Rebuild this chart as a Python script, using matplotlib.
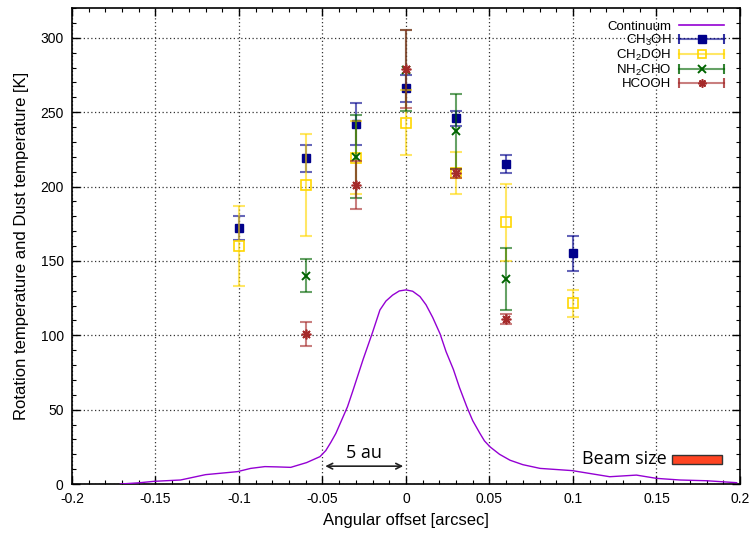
import matplotlib
matplotlib.use('Agg')
import matplotlib.pyplot as plt
from matplotlib.lines import Line2D
from matplotlib.legend_handler import HandlerBase
from matplotlib.patches import Rectangle
from matplotlib.ticker import MultipleLocator, FuncFormatter

plt.rcParams['font.family'] = ['Liberation Sans', 'DejaVu Sans']
plt.rcParams['mathtext.fontset'] = 'custom'
plt.rcParams['mathtext.rm'] = 'Liberation Sans'
plt.rcParams['axes.unicode_minus'] = False

# continuum profile
cont_x = [-0.171, -0.16, -0.151, -0.135, -0.12, -0.101, -0.093, -0.0845, -0.077, -0.069,
          -0.0595, -0.0515, -0.048, -0.045, -0.042, -0.0385, -0.035, -0.032, -0.0256,
          -0.02, -0.0156, -0.012, -0.008, -0.004, 0.0,
          0.004, 0.0084, 0.012, 0.016, 0.0204, 0.024, 0.0284, 0.032, 0.0364, 0.040,
          0.0443, 0.047, 0.0503, 0.056, 0.0623, 0.07, 0.0803, 0.0996,
          0.116, 0.122, 0.138, 0.150, 0.164, 0.180, 0.198]
cont_y = [0.0, 0.8, 1.8, 2.7, 6.3, 8.3, 10.5, 11.7, 11.5, 11.2,
          14.4, 18.4, 22.5, 28.0, 34.0, 43.0, 52.0, 62.0, 84.0,
          102.0, 117.0, 123.0, 127.0, 129.8, 130.5,
          129.6, 126.0, 120.5, 112.0, 101.0, 89.0, 77.0, 65.0, 52.0, 42.5,
          34.0, 29.0, 25.0, 20.0, 16.0, 13.0, 10.5, 9.0,
          6.0, 4.9, 6.0, 3.8, 2.7, 2.2, 0.9]

# rotation temperatures
ch3oh_x = [-0.1, -0.06, -0.03, 0.0, 0.03, 0.06, 0.1]
ch3oh_t = [172, 219, 242, 266, 246, 215, 155]
ch3oh_e = [8, 9, 14, 9, 5, 6, 12]

ch2doh_x = [-0.1, -0.06, -0.03, 0.0, 0.03, 0.06, 0.1]
ch2doh_t = [160, 201, 219.5, 243, 209, 176, 121.5]
ch2doh_e = [27, 34, 24.5, 22, 14, 26, 9]

nh2cho_x = [-0.06, -0.03, 0.0, 0.03, 0.06]
nh2cho_t = [140, 220, 278, 237, 138]
nh2cho_e = [11, 28, 27, 25, 21]

hcooh_x = [-0.06, -0.03, 0.0, 0.06, 0.03]
hcooh_t = [101, 201, 279, 111, 209]
hcooh_e = [8, 16, 26, 3.5, 3]

c_cont = '#9400d3'
c_ch3oh = '#00008b'
c_ch2doh = '#ffd700'
c_nh2cho = '#006400'
c_hcooh = '#a52a2a'


class HandlerHBar(HandlerBase):
    def __init__(self, color, marker, ms, mfc, mew):
        super().__init__()
        self.color = color
        self.marker = marker
        self.ms = ms
        self.mfc = mfc
        self.mew = mew

    def create_artists(self, legend, orig_handle, xdescent, ydescent, width, height, fontsize, trans):
        y = height / 2 - ydescent
        x0, x1 = -xdescent, width - xdescent
        bar = Line2D([x0, x1], [y, y], color=self.color, lw=1.5, alpha=0.6, transform=trans)
        caps = Line2D([x0, x1], [y, y], ls='none', marker='|', ms=7, mew=1.5,
                      color=self.color, alpha=0.8, transform=trans)
        mk = Line2D([(x0 + x1) / 2], [y], ls='none', marker=self.marker, ms=self.ms,
                    mfc=self.mfc, mec=self.color, mew=self.mew, transform=trans)
        return [bar, caps, mk]


fig = plt.figure(figsize=(7.56, 5.35), dpi=100)
ax = fig.add_axes([0.0952, 0.0953, 0.8836, 0.8897])

ax.plot(cont_x, cont_y, color=c_cont, lw=1.0, zorder=3)

series = [
    (ch3oh_x, ch3oh_t, ch3oh_e, c_ch3oh, 's', 6, c_ch3oh, 1.0),
    (ch2doh_x, ch2doh_t, ch2doh_e, c_ch2doh, 's', 7, 'none', 1.2),
    (nh2cho_x, nh2cho_t, nh2cho_e, c_nh2cho, 'x', 6, c_nh2cho, 1.4),
    (hcooh_x, hcooh_t, hcooh_e, c_hcooh, (8, 2, 0), 7, c_hcooh, 1.2),
]
handles = [Line2D([], [], color=c_cont, lw=1.2)]
hmap = {}
for i, (xs, ts, es, col, mk, ms, mfc, mew) in enumerate(series):
    ax.errorbar(xs, ts, yerr=es, fmt='none', ecolor=col, elinewidth=1.5,
                capsize=4, capthick=1.5, alpha=0.6, zorder=4 + i)
    ax.plot(xs, ts, ls='none', marker=mk, ms=ms, mfc=mfc, mec=col, mew=mew, zorder=5 + i)
    h = Line2D([], [])
    handles.append(h)
    hmap[h] = HandlerHBar(col, mk, ms * 0.85, mfc, mew)

labels = ['Continuum', 'CH$_3$OH', 'CH$_2$DOH', 'NH$_2$CHO', 'HCOOH']
ax.legend(handles, labels, handler_map=hmap, loc='upper right', frameon=False,
          markerfirst=False, fontsize=9.5, handlelength=3.4, handletextpad=0.6,
          labelspacing=0.0, borderaxespad=0.3, bbox_to_anchor=(0.99, 0.993))

# 5 au arrow
ax.annotate('', xy=(-0.05, 12), xytext=(0.0, 12),
            arrowprops=dict(arrowstyle='<->', color='#222222', lw=1.2))
ax.text(-0.025, 15, '5 au', ha='center', va='bottom', fontsize=13, family='Open Sans')

# beam size
ax.text(0.156, 16.5, 'Beam size', ha='right', va='center', fontsize=13, family='Open Sans')
ax.add_patch(Rectangle((0.1595, 13.5), 0.0295, 6, facecolor='#ff4422',
                       edgecolor='#333333', lw=1.0, zorder=6))

ax.set_xlim(-0.2, 0.2)
ax.set_ylim(0, 320)
ax.xaxis.set_major_locator(MultipleLocator(0.05))
ax.xaxis.set_minor_locator(MultipleLocator(0.01))
ax.yaxis.set_major_locator(MultipleLocator(50))
ax.yaxis.set_minor_locator(MultipleLocator(10))
ax.xaxis.set_major_formatter(FuncFormatter(lambda v, p: '%g' % round(v, 3)))
ax.tick_params(which='both', direction='in', top=True, right=True, labelsize=10)
ax.tick_params(which='major', length=6, width=1)
ax.tick_params(which='minor', length=3, width=0.8)
ax.tick_params(axis='x', which='major', pad=6)
ax.tick_params(axis='y', which='major', pad=6)
ax.grid(True, which='major', ls=(0, (1, 2)), color='#333333', lw=0.9)
for s in ax.spines.values():
    s.set_linewidth(1.2)

ax.set_xlabel('Angular offset [arcsec]', fontsize=12, labelpad=5)
ax.set_ylabel('Rotation temperature and Dust temperature [K]', fontsize=12, labelpad=8)

plt.savefig('out.png', dpi=100)
